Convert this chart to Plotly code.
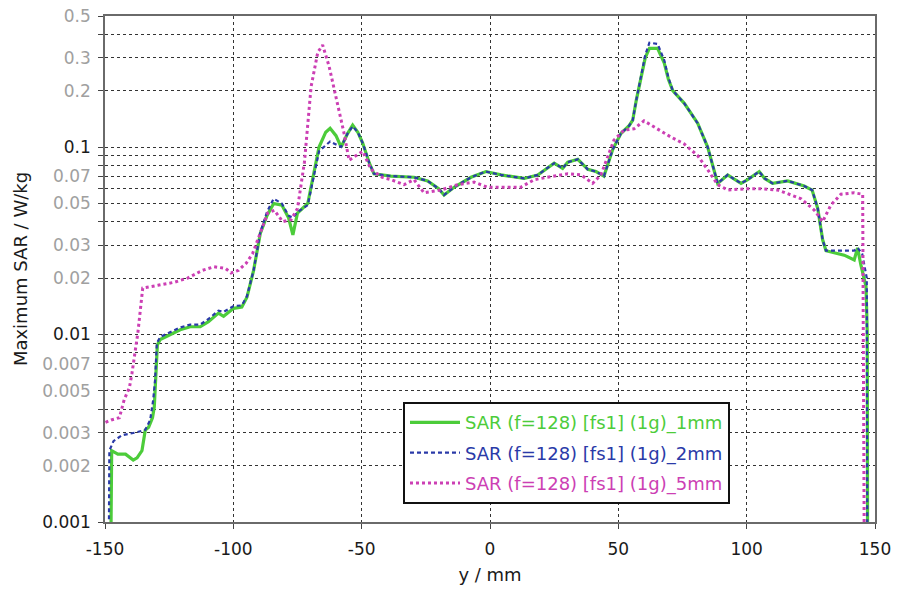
import plotly.graph_objects as go
import math

# ---------------- data ----------------
x_1mm = [-147.7, -147.4, -145, -142, -139, -137.5, -135.6, -134.3, -133, -131.5, -130.8, -130.2, -129.6,
         -128.5, -124.6, -120.7, -116.8, -112.9, -109.7, -105.8, -103.8, -99.9, -96.7, -94.7, -92.1, -89.5,
         -86.9, -84.3, -81.1, -78.5, -76.8, -75, -71, -68.5, -66.6, -64, -62.3, -60, -58, -55.5, -53.5,
         -51.5, -49.6, -47, -45.2, -38.6, -29.6, -24.3, -20, -17.9, -14, -7.4, -1.6, 4.3, 13.3, 18.6, 25,
         28.3, 30.3, 34.2, 38.1, 41.3, 44.4, 47.8, 51, 54.2, 55.6, 57, 58.8, 60.5, 62.1, 65.3, 67.9, 69.5,
         71.2, 75.7, 80.9, 84.8, 88.7, 92.6, 97.8, 100.4, 104.9, 107, 110.1, 116, 122.4, 125.5, 127.7,
         129.6, 130.9, 138, 141.9, 143.2, 144.5, 146.5, 147.0, 147.1]
sar_1mm = [0.0008, 0.0024, 0.0023, 0.0023, 0.00214, 0.0022, 0.0024, 0.0031, 0.0032, 0.0036, 0.0041, 0.0057,
           0.0088, 0.0094, 0.0100, 0.0106, 0.0110, 0.0110, 0.0117, 0.0130, 0.0125, 0.0138, 0.0140, 0.0158,
           0.022, 0.0346, 0.043, 0.050, 0.049, 0.042, 0.034, 0.0445, 0.050, 0.075, 0.100, 0.120, 0.126,
           0.115, 0.100, 0.118, 0.131, 0.120, 0.105, 0.082, 0.072, 0.070, 0.069, 0.066, 0.060, 0.0555,
           0.061, 0.069, 0.074, 0.071, 0.068, 0.071, 0.082, 0.077, 0.083, 0.086, 0.076, 0.074, 0.070,
           0.097, 0.118, 0.130, 0.139, 0.178, 0.23, 0.30, 0.336, 0.336, 0.28, 0.23, 0.20, 0.171, 0.134,
           0.100, 0.064, 0.071, 0.064, 0.067, 0.074, 0.068, 0.064, 0.066, 0.062, 0.059, 0.047, 0.032,
           0.028, 0.0265, 0.025, 0.029, 0.0235, 0.018, 0.010, 0.0008]

x_2mm = [-148.5, -148.3, -146.7, -143.4, -138.2, -134.3, -132.4, -131.2, -130.5, -129.8, -128.5, -124.6,
         -120.7, -116.8, -112.9, -109.7, -105.8, -103.8, -99.9, -96.7, -94.7, -92.1, -89.5, -86.9, -84.3,
         -81.1, -78.5, -76.8, -75, -71, -68.5, -66.6, -62.3, -58, -55.5, -53.5, -51.5, -49.6, -47, -45.2,
         -38.6, -29.6, -24.3, -20, -17.9, -14, -7.4, -1.6, 4.3, 13.3, 18.6, 25, 28.3, 30.3, 34.2, 38.1,
         41.3, 44.4, 47.8, 51, 54.2, 55.6, 57, 58.8, 60.5, 62.1, 65.3, 67.9, 69.5, 71.2, 75.7, 80.9, 84.8,
         88.7, 92.6, 97.8, 100.4, 104.9, 107, 110.1, 116, 122.4, 125.5, 127.7, 129.6, 130.9, 138, 141.9,
         143.2, 145, 146.8, 147.0]
sar_2mm = [0.0008, 0.0024, 0.0027, 0.0029, 0.0030, 0.0031, 0.0035, 0.0045, 0.0057, 0.0090, 0.0097, 0.0103,
           0.0109, 0.0113, 0.0113, 0.0121, 0.0134, 0.0132, 0.0142, 0.0143, 0.0160, 0.022, 0.035, 0.045,
           0.053, 0.050, 0.043, 0.042, 0.045, 0.049, 0.072, 0.095, 0.107, 0.100, 0.118, 0.129, 0.120,
           0.105, 0.082, 0.072, 0.070, 0.069, 0.066, 0.060, 0.0555, 0.061, 0.069, 0.074, 0.071, 0.068,
           0.071, 0.082, 0.077, 0.083, 0.086, 0.076, 0.074, 0.070, 0.097, 0.118, 0.130, 0.139, 0.178,
           0.235, 0.31, 0.36, 0.355, 0.29, 0.235, 0.20, 0.171, 0.134, 0.100, 0.064, 0.071, 0.064, 0.067,
           0.074, 0.068, 0.064, 0.066, 0.062, 0.059, 0.047, 0.032, 0.028, 0.028, 0.028, 0.029, 0.027,
           0.020, 0.0008]

x_5mm = [-149.8, -147.6, -144.4, -142.5, -140.5, -139.5, -137.2, -135.3, -129.4, -123, -117.8, -112,
         -107.5, -103, -100.9, -98, -95, -92.5, -90.5, -86.6, -84, -80.8, -77.5, -75, -72.3, -69.7, -67.1,
         -65.2, -62.7, -60, -56.9, -54.9, -52.2, -49.6, -46.4, -42, -38.6, -33.5, -29.6, -25.7, -19.1,
         -12.6, -6.2, -0.9, 3, 12, 17.2, 22.5, 30.3, 35.5, 40, 43.2, 45.9, 48.3, 52.2, 56.1, 60, 65.3,
         70.5, 75.6, 80.9, 85, 88.7, 92.6, 100.4, 105.6, 112.1, 121.2, 126.4, 129.6, 132.8, 136.7, 141.9,
         145.2, 145.8]
sar_5mm = [0.0034, 0.0035, 0.0036, 0.0045, 0.0052, 0.0062, 0.0102, 0.0177, 0.0183, 0.019, 0.020, 0.022,
           0.023, 0.0225, 0.0213, 0.022, 0.024, 0.027, 0.032, 0.0445, 0.046, 0.040, 0.041, 0.047, 0.083,
           0.21, 0.32, 0.35, 0.27, 0.185, 0.119, 0.085, 0.090, 0.095, 0.076, 0.069, 0.067, 0.063, 0.067,
           0.057, 0.059, 0.063, 0.065, 0.061, 0.061, 0.061, 0.067, 0.069, 0.072, 0.071, 0.064, 0.071,
           0.089, 0.109, 0.123, 0.125, 0.138, 0.125, 0.113, 0.104, 0.090, 0.075, 0.063, 0.059, 0.060,
           0.060, 0.059, 0.053, 0.046, 0.040, 0.049, 0.056, 0.057, 0.056, 0.0008]

series_names = ["SAR (f=128) [fs1] (1g)_1mm", "SAR (f=128) [fs1] (1g)_2mm", "SAR (f=128) [fs1] (1g)_5mm"]

y_tick_vals = [0.001, 0.002, 0.003, 0.004, 0.005, 0.006, 0.007, 0.008, 0.009,
               0.01, 0.02, 0.03, 0.04, 0.05, 0.06, 0.07, 0.08, 0.09,
               0.1, 0.2, 0.3, 0.4, 0.5]
y_tick_labels = ["0.001", "0.002", "0.003", "", "0.005", "", "0.007", "", "",
                 "0.01", "0.02", "0.03", "", "0.05", "", "0.07", "", "",
                 "0.1", "0.2", "0.3", "", "0.5"]
y_major = ["0.001", "0.01", "0.1"]
x_tick_vals = [-150, -100, -50, 0, 50, 100, 150]

# ---------------- styling ----------------
GREEN = "#4ccc3a"
BLUE = "#2a3aa8"
MAGENTA = "#cc3fb4"
FONT = "DejaVu Sans"

ticktext = [f"<span style='color:#1a1a1a'>{t}</span>" if t in y_major else t for t in y_tick_labels]

fig = go.Figure()
fig.add_trace(go.Scatter(x=x_1mm, y=sar_1mm, mode="lines", legendgroup="a",
                         name=f"<span style='color:{GREEN}'>{series_names[0]}</span>",
                         line=dict(color=GREEN, width=3.2)))
fig.add_trace(go.Scatter(x=x_2mm, y=sar_2mm, mode="lines", legendgroup="b",
                         name=f"<span style='color:{BLUE}'>{series_names[1]}</span>",
                         line=dict(color=BLUE, width=2.2, dash="4px,3px")))
fig.add_trace(go.Scatter(x=x_5mm, y=sar_5mm, mode="lines", legendgroup="c",
                         name=f"<span style='color:{MAGENTA}'>{series_names[2]}</span>",
                         line=dict(color=MAGENTA, width=3, dash="dot")))

fig.update_layout(
    width=899, height=592,
    margin=dict(l=105, r=24, t=16, b=70),
    paper_bgcolor="white", plot_bgcolor="white",
    font=dict(family=FONT, size=14, color="#1a1a1a"),
    legend=dict(x=0.387, y=0.237, xanchor="left", yanchor="top",
                bgcolor="white", bordercolor="#111111", borderwidth=2,
                font=dict(family=FONT, size=18), tracegroupgap=4,
                itemwidth=50, traceorder="grouped"),
    xaxis=dict(range=[-150, 150], tickvals=x_tick_vals,
               ticktext=[str(v) for v in x_tick_vals],
               showgrid=True, gridcolor="#333333", griddash="3px,3px", gridwidth=1,
               showline=True, linecolor="#6a6a6a", linewidth=1.5, mirror=True,
               ticks="outside", ticklen=5, tickcolor="#444444",
               ticklabelstandoff=6,
               zeroline=False, automargin=False,
               title=dict(text="y / mm", font=dict(size=18), standoff=10),
               tickfont=dict(size=17, color="#1a1a1a")),
    yaxis=dict(type="log", range=[math.log10(0.001), math.log10(0.5)],
               tickvals=y_tick_vals, ticktext=ticktext,
               showgrid=True, gridcolor="#333333", griddash="3px,3px", gridwidth=1,
               showline=True, linecolor="#6a6a6a", linewidth=1.5, mirror=True,
               ticks="outside", ticklen=5, tickcolor="#444444",
               ticklabelstandoff=4,
               zeroline=False, automargin=False,
               title=dict(text="Maximum SAR / W/kg", font=dict(size=18), standoff=10),
               tickfont=dict(size=17, color="#a0a0a0")),
)

fig.write_html("out.html", config={"displayModeBar": False},
               post_script="document.body.style.margin='0px';")
